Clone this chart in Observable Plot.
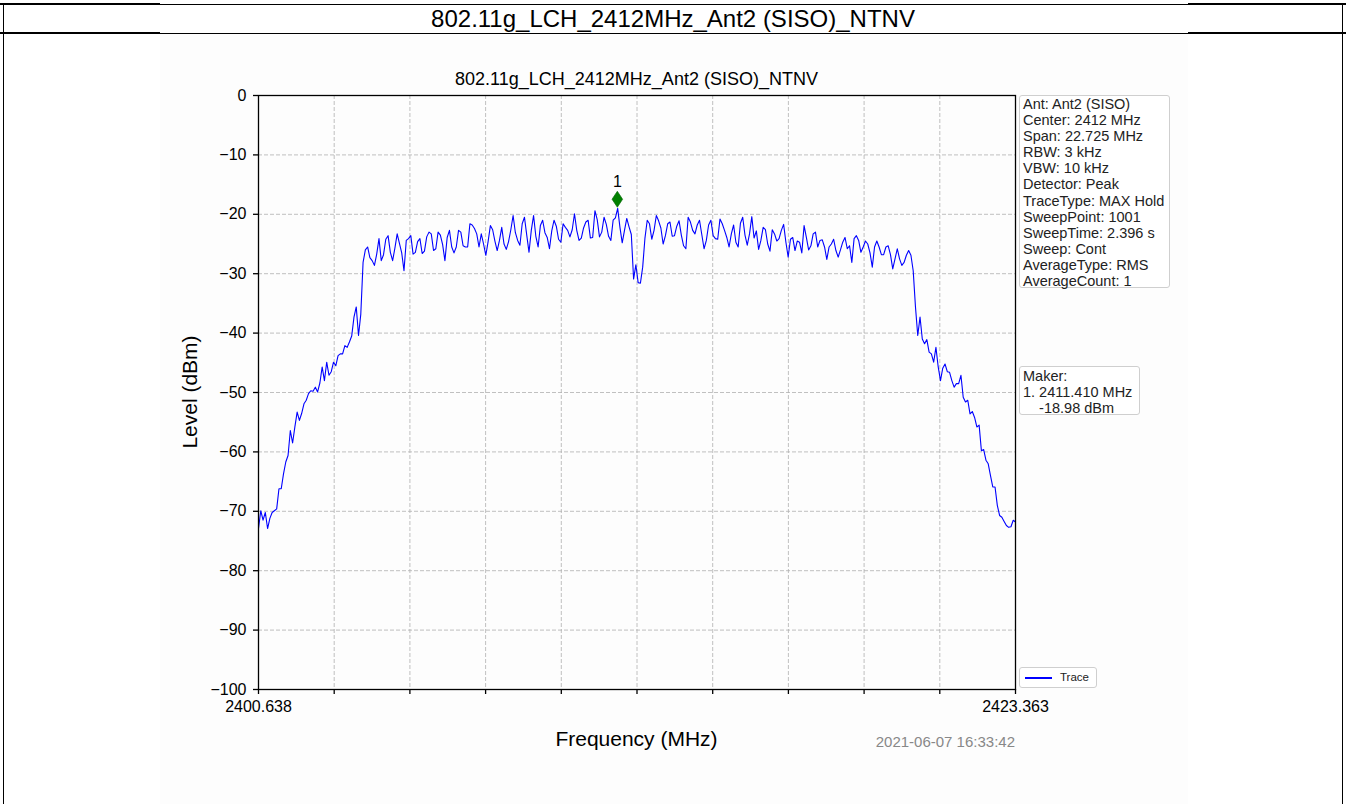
<!DOCTYPE html>
<html><head><meta charset="utf-8">
<script src="https://cdn.jsdelivr.net/npm/d3@7"></script>
<script src="https://cdn.jsdelivr.net/npm/@observablehq/plot@0.6"></script>
<style>
body{margin:0;background:#fff;font-family:"Liberation Sans",Arial,sans-serif;color:#000;}
#page{position:relative;width:1346px;height:804px;overflow:hidden;background:#fff;}
.abs{position:absolute;}
.hl{position:absolute;background:#000;}
.box{position:absolute;background:#fff;border:1px solid #cfcfcf;border-radius:3px;box-sizing:border-box;font-size:14.5px;line-height:16.1px;padding:0 0 0 3px;white-space:pre;color:#222;}
</style></head><body>
<div id="page">
  <div class="abs" style="left:160px;top:34px;width:1028px;height:770px;background:#fdfdfd;"></div>
  <div class="hl" style="left:0;top:4px;width:1346px;height:1px;"></div>
  <div class="hl" style="left:0;top:3px;width:160px;height:2px;"></div>
  <div class="hl" style="left:1188px;top:3px;width:158px;height:2px;"></div>
  <div class="hl" style="left:0;top:33px;width:1346px;height:1px;"></div>
  <div class="hl" style="left:0;top:32px;width:160px;height:2px;"></div>
  <div class="hl" style="left:1188px;top:32px;width:158px;height:2px;"></div>
  <div class="hl" style="left:3px;top:4px;width:1px;height:800px;"></div>
  <div class="hl" style="left:1342px;top:4px;width:1px;height:800px;"></div>
  <div id="header" class="abs" style="left:0;top:5px;width:1346px;text-align:center;font-size:24px;line-height:28px;"></div>
  <div id="chart" class="abs" style="left:0;top:0;"></div>
  <div id="title" class="abs" style="left:258px;top:69px;width:757px;text-align:center;font-size:18px;line-height:21px;"></div>
  <div id="ylabel" class="abs" style="left:190px;top:392px;font-size:21px;line-height:24px;white-space:nowrap;transform:translate(-50%,-50%) rotate(-90deg);"></div>
  <div id="xlabel" class="abs" style="left:258px;top:727px;width:757px;text-align:center;font-size:21px;line-height:24px;"></div>
  <div id="stamp" class="abs" style="left:815px;top:733px;width:200px;text-align:right;font-size:15px;line-height:17px;color:#888;"></div>
  <div id="info" class="box" style="left:1019px;top:95px;width:151px;height:193px;"></div>
  <div id="maker" class="box" style="left:1019px;top:366px;width:121px;height:49px;padding-top:1px;"></div>
  <div id="legend" class="box" style="left:1019px;top:667px;width:78px;height:21px;white-space:nowrap;font-size:11.5px;line-height:19px;padding-left:0;"><span style="display:inline-block;width:27px;height:1.5px;background:#0000ff;vertical-align:middle;margin:0 8px 0 5px;"></span><span id="legendText"></span></div>
</div>
<script>
// ---- data ----
const headerText = "802.11g_LCH_2412MHz_Ant2 (SISO)_NTNV";
const chartTitle = "802.11g_LCH_2412MHz_Ant2 (SISO)_NTNV";
const xLabel = "Frequency (MHz)";
const yLabel = "Level (dBm)";
const timestamp = "2021-06-07 16:33:42";
const seriesName = "Trace";

const startFreqMHz = 2400.638;
const stopFreqMHz = 2423.363;

// trace level (dBm) across the sweep, every 3rd sweep point
const levelsDbm = [
-72.9,-69.9,-71.5,-70.2,-72.9,-71.2,-70.2,-69.9,-69.6,-66.2,
-66.2,-63.7,-61.7,-60.6,-56.4,-58.5,-55.8,-53.3,-54.7,-53.5,
-51.9,-51.3,-50.2,-49.7,-49.8,-49.1,-49.9,-48.4,-45.7,-48.0,
-44.9,-47.1,-46.5,-44.9,-45.5,-43.8,-43.5,-43.5,-42.1,-42.4,
-41.5,-40.5,-37.3,-35.6,-40.4,-36.8,-28.1,-26.0,-25.5,-27.3,
-27.8,-28.6,-26.7,-24.1,-27.8,-26.8,-24.2,-23.6,-26.4,-27.8,
-25.7,-23.3,-24.9,-26.5,-29.5,-24.4,-24.1,-23.6,-26.7,-26.4,
-24.6,-24.1,-26.6,-26.2,-23.8,-23.0,-23.3,-26.1,-25.8,-23.0,
-23.5,-25.1,-27.8,-23.9,-22.7,-25.5,-26.5,-25.5,-22.7,-23.0,
-25.3,-25.5,-25.5,-21.6,-21.8,-22.4,-23.3,-25.5,-23.3,-25.0,
-26.9,-24.6,-21.9,-22.6,-24.5,-26.1,-24.4,-22.2,-25.0,-25.9,
-24.6,-22.6,-20.2,-23.1,-24.4,-25.2,-21.6,-20.5,-23.5,-26.4,
-22.7,-20.2,-23.7,-25.5,-21.9,-21.0,-23.1,-23.9,-25.8,-22.8,
-21.0,-22.0,-24.2,-24.7,-21.6,-22.2,-22.7,-23.8,-22.6,-19.9,
-22.7,-24.4,-24.0,-22.3,-21.3,-21.0,-24.0,-23.9,-19.4,-20.9,
-23.8,-23.0,-20.5,-21.7,-23.7,-24.4,-21.0,-20.6,-19.0,-22.2,
-24.8,-22.7,-20.7,-22.1,-23.4,-30.9,-28.5,-31.5,-31.6,-28.9,
-24.0,-21.0,-21.6,-24.2,-22.7,-20.2,-21.1,-22.3,-25.0,-23.6,
-21.6,-21.3,-23.7,-23.6,-22.0,-21.1,-23.5,-25.3,-25.8,-20.5,
-21.3,-22.7,-23.3,-21.8,-21.0,-23.4,-25.8,-24.4,-21.8,-21.0,
-23.6,-24.1,-24.2,-20.8,-21.6,-22.7,-23.9,-25.5,-23.3,-21.8,
-24.7,-25.5,-21.5,-20.5,-23.5,-25.2,-23.3,-20.4,-24.0,-22.8,
-25.9,-24.4,-22.2,-22.6,-25.0,-26.2,-22.6,-23.3,-24.5,-24.1,
-22.7,-21.7,-24.7,-27.2,-24.2,-23.9,-26.1,-24.5,-24.7,-26.5,
-21.9,-23.9,-26.0,-25.3,-23.3,-23.0,-25.5,-24.4,-24.3,-25.5,
-27.6,-25.5,-25.0,-24.2,-26.1,-27.2,-26.0,-24.7,-23.9,-25.8,
-25.3,-28.1,-24.1,-23.6,-24.4,-26.4,-25.5,-24.5,-25.0,-26.5,
-28.9,-25.5,-24.5,-25.5,-26.8,-26.8,-25.5,-25.3,-26.8,-29.2,
-27.5,-25.8,-27.5,-28.6,-28.1,-26.9,-26.1,-26.9,-29.5,-35.6,
-40.4,-37.3,-41.0,-41.8,-41.1,-43.2,-43.5,-44.9,-42.4,-45.7,
-48.0,-45.9,-45.2,-46.5,-46.6,-48.0,-49.1,-48.5,-48.5,-47.1,
-50.8,-51.6,-51.3,-53.6,-53.2,-54.2,-55.8,-55.5,-59.8,-59.6,
-61.4,-62.0,-64.0,-65.9,-65.9,-69.0,-70.7,-71.0,-71.7,-72.4,
-72.7,-72.6,-71.5,-71.8
];

const yTicks = [0, -10, -20, -30, -40, -50, -60, -70, -80, -90, -100];
const yTickLabels = ["0", "\u221210", "\u221220", "\u221230", "\u221240", "\u221250", "\u221260", "\u221270", "\u221280", "\u221290", "\u2212100"];
const xTicks = [2400.638, 2402.9105, 2405.183, 2407.4555, 2409.728, 2412.0005, 2414.273, 2416.5455, 2418.818, 2421.0905, 2423.363];
const xTickLabels = ["2400.638", "", "", "", "", "", "", "", "", "", "2423.363"];

const markerPoints = [{label: "1", freqMHz: 2411.410, levelDbm: -18.98}];

const infoLines = [
  "Ant: Ant2 (SISO)", "Center: 2412 MHz", "Span: 22.725 MHz", "RBW: 3 kHz", "VBW: 10 kHz",
  "Detector: Peak", "TraceType: MAX Hold", "SweepPoint: 1001", "SweepTime: 2.396 s",
  "Sweep: Cont", "AverageType: RMS", "AverageCount: 1"
];
const makerLines = ["Maker:", "1. 2411.410 MHz", "    -18.98 dBm"];

// ---- build ----
document.getElementById("header").textContent = headerText;
document.getElementById("title").textContent = chartTitle;
document.getElementById("xlabel").textContent = xLabel;
document.getElementById("ylabel").textContent = yLabel;
document.getElementById("stamp").textContent = timestamp;
document.getElementById("info").textContent = infoLines.join("\n");
document.getElementById("maker").textContent = makerLines.join("\n");
document.getElementById("legendText").textContent = seriesName;

const n = levelsDbm.length;
const trace = levelsDbm.map((v, i) => ({
  freq: startFreqMHz + i * (stopFreqMHz - startFreqMHz) / (n - 1),
  level: v
}));

const thinDiamond = {
  draw(ctx) {
    ctx.moveTo(0, -8); ctx.lineTo(5.3, 0); ctx.lineTo(0, 8); ctx.lineTo(-5.3, 0); ctx.closePath();
  }
};

const gridStyle = {stroke: "#b0b0b0", strokeOpacity: 1, strokeWidth: 0.8, strokeDasharray: "4,2"};

const chart = Plot.plot({
  width: 1346, height: 804,
  marginLeft: 258, marginRight: 331, marginTop: 95, marginBottom: 115,
  style: {background: "transparent", fontFamily: "Liberation Sans, Arial, sans-serif", fontSize: "16px", color: "#000", overflow: "visible"},
  x: {domain: [startFreqMHz, stopFreqMHz], label: null},
  y: {domain: [-100, 0], label: null},
  marks: [
    Plot.gridX(xTicks, gridStyle),
    Plot.gridY(yTicks, gridStyle),
    Plot.line(trace, {x: "freq", y: "level", stroke: "#0000ff", strokeWidth: 1.1}),
    Plot.frame({stroke: "#000", strokeWidth: 1.3}),
    Plot.axisX(xTicks, {tickSize: 5, tickPadding: 6, fontSize: 16, stroke: "#000", strokeWidth: 1.3,
      tickFormat: d => xTickLabels[xTicks.indexOf(d)], label: null}),
    Plot.axisY(yTicks, {tickSize: 5, tickPadding: 7, fontSize: 16, stroke: "#000", strokeWidth: 1.3,
      tickFormat: d => yTickLabels[yTicks.indexOf(d)], label: null}),
    Plot.dot(markerPoints, {x: "freqMHz", y: "levelDbm", symbol: thinDiamond, r: 5, fill: "#008000", stroke: "#006400", strokeWidth: 0.6, dy: -9}),
    Plot.text(markerPoints, {x: "freqMHz", y: "levelDbm", text: "label", dy: -26, fontSize: 16, fill: "#000"})
  ]
});
document.getElementById("chart").appendChild(chart);
</script>
</body></html>
